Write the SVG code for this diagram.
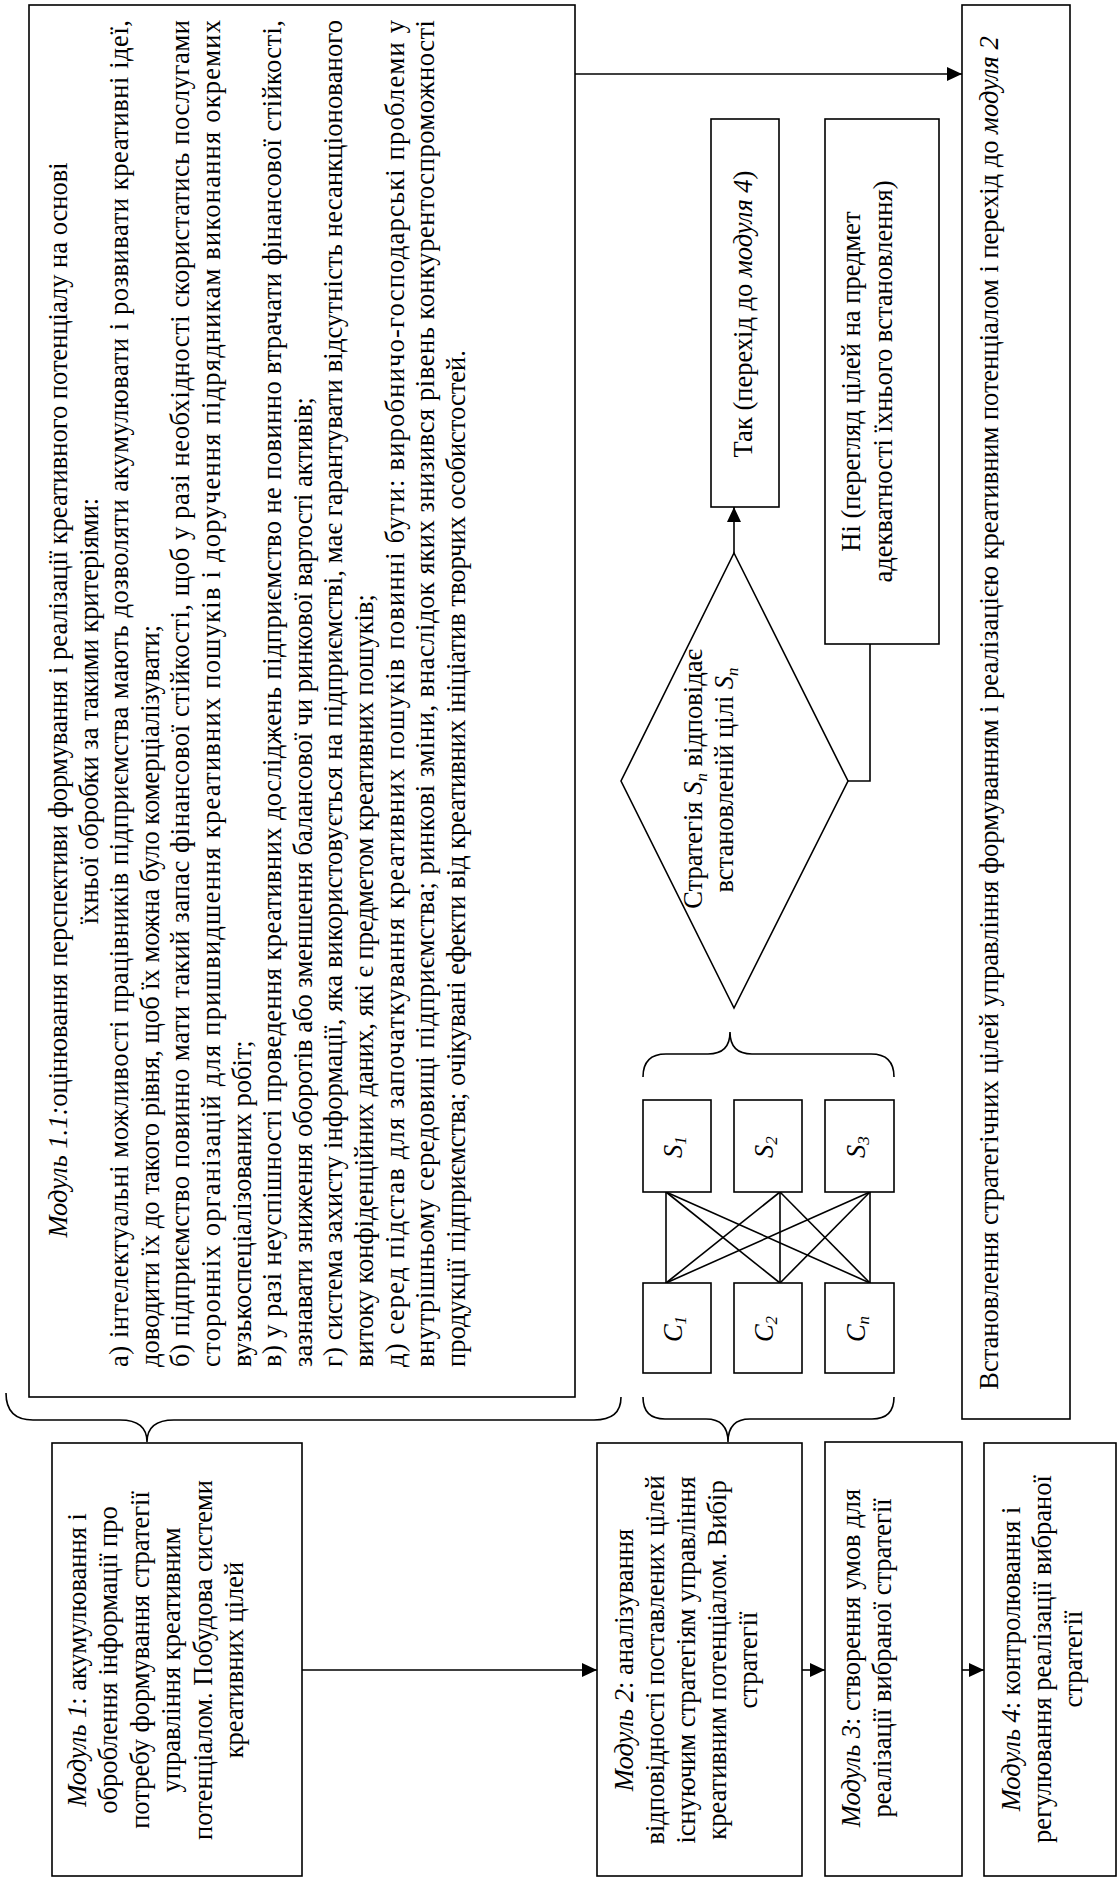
<svg xmlns="http://www.w3.org/2000/svg" width="1119" height="1881" viewBox="0 0 1119 1881">
<style>
.t{font-family:"Liberation Serif","Times New Roman",serif;font-size:26.5px;fill:#000}
.i{font-style:italic}
.m{text-anchor:middle}
.sub{font-size:17px}
.box{fill:#fff;stroke:#000;stroke-width:1.6}
.ln{fill:none;stroke:#000;stroke-width:1.6}
</style>
<defs>
<marker id="ah" markerUnits="userSpaceOnUse" markerWidth="16" markerHeight="14" refX="15" refY="7" orient="auto">
<path d="M0,0 L15,7 L0,14 z" fill="#000"/>
</marker>
</defs>
<rect width="1119" height="1881" fill="#fff"/>

<g id="connectors">
<line class="ln" x1="302" y1="1670" x2="597" y2="1670" marker-end="url(#ah)"/>
<line class="ln" x1="802" y1="1670" x2="825" y2="1670" marker-end="url(#ah)"/>
<line class="ln" x1="962" y1="1670" x2="984" y2="1670" marker-end="url(#ah)"/>
<line class="ln" x1="575" y1="74" x2="962" y2="74" marker-end="url(#ah)"/>
<line class="ln" x1="734" y1="553" x2="734" y2="507" marker-end="url(#ah)"/>
<polyline class="ln" points="848,781 870,781 870,644"/>
<path class="ln" d="M6,1393 Q6,1420 33,1420 L120,1420 Q147,1420 147,1442 Q147,1420 174,1420 L594,1420 Q621,1420 621,1397"/>
<path class="ln" d="M643,1397 Q643,1419 665,1419 L706,1419 Q728,1419 728,1442 Q728,1419 750,1419 L872,1419 Q894,1419 894,1397"/>
<path class="ln" d="M643,1077 Q643,1054 666,1054 L708,1054 Q730,1054 730,1032 Q730,1054 752,1054 L871,1054 Q894,1054 894,1077"/>
<line class="ln" x1="666" y1="1192" x2="666" y2="1283"/>
<line class="ln" x1="666" y1="1192" x2="780" y2="1283"/>
<line class="ln" x1="666" y1="1192" x2="870" y2="1283"/>
<line class="ln" x1="780" y1="1192" x2="666" y2="1283"/>
<line class="ln" x1="780" y1="1192" x2="780" y2="1283"/>
<line class="ln" x1="780" y1="1192" x2="870" y2="1283"/>
<line class="ln" x1="870" y1="1192" x2="666" y2="1283"/>
<line class="ln" x1="870" y1="1192" x2="780" y2="1283"/>
<line class="ln" x1="870" y1="1192" x2="870" y2="1283"/>
</g>

<g id="module11">
<rect class="box" x="29" y="5" width="546" height="1392"/>
<g transform="rotate(-90)" class="t">
<text x="-700" y="67" class="m"><tspan class="i">Модуль 1.1:</tspan>оцінювання перспективи формування і реалізації креативного потенціалу на основі</text>
<text x="-711" y="97.6" class="m">їхньої обробки за такими критеріями:</text>
<text x="-1367" y="128.2" textLength="1347" lengthAdjust="spacing">а) інтелектуальні можливості працівників підприємства мають дозволяти акумулювати і розвивати креативні ідеї,</text>
<text x="-1367" y="158.8">доводити їх до такого рівня, щоб їх можна було комерціалізувати;</text>
<text x="-1367" y="189.4" textLength="1347" lengthAdjust="spacing">б) підприємство повинно мати такий запас фінансової стійкості, щоб у разі необхідності скористатись послугами</text>
<text x="-1367" y="220" textLength="1347" lengthAdjust="spacing">сторонніх організацій для пришвидшення креативних пошуків і доручення підрядникам виконання окремих</text>
<text x="-1367" y="250.6">вузькоспеціалізованих робіт;</text>
<text x="-1367" y="281.2" textLength="1347" lengthAdjust="spacing">в) у разі неуспішності проведення креативних досліджень підприємство не повинно втрачати фінансової стійкості,</text>
<text x="-1367" y="311.8">зазнавати зниження оборотів або зменшення балансової чи ринкової вартості активів;</text>
<text x="-1367" y="342.4" textLength="1347" lengthAdjust="spacing">г) система захисту інформації, яка використовується на підприємстві, має гарантувати відсутність несанкціонованого</text>
<text x="-1367" y="373">витоку конфіденційних даних, які є предметом креативних пошуків;</text>
<text x="-1367" y="403.6" textLength="1347" lengthAdjust="spacing">д) серед підстав для започаткування креативних пошуків повинні бути: виробничо-господарські проблеми у</text>
<text x="-1367" y="434.2" textLength="1347" lengthAdjust="spacing">внутрішньому середовищі підприємства; ринкові зміни, внаслідок яких знизився рівень конкурентоспроможності</text>
<text x="-1367" y="464.8">продукції підприємства; очікувані ефекти від креативних ініціатив творчих особистостей.</text>
</g>
</g>

<g id="goals">
<rect class="box" x="962" y="5" width="108" height="1414"/>
<text class="t m" transform="rotate(-90)" x="-713" y="998">Встановлення стратегічних цілей управління формуванням і реалізацією креативним потенціалом і перехід до <tspan class="i">модуля 2</tspan></text>
</g>

<g id="yes">
<rect class="box" x="711" y="119" width="68" height="388"/>
<text class="t m" transform="rotate(-90)" x="-314" y="752">Так (перехід до <tspan class="i">модуля 4</tspan>)</text>
</g>

<g id="no">
<rect class="box" x="825" y="119" width="114" height="525"/>
<g class="t m" transform="rotate(-90)">
<text x="-381.5" y="860">Ні (перегляд цілей на предмет</text>
<text x="-381.5" y="892">адекватності їхнього встановлення)</text>
</g>
</g>

<g id="decision">
<polygon class="box" points="734,553 848,781 734,1008 621,781"/>
<g class="t m" transform="rotate(-90)">
<text x="-779" y="702">Стратегія <tspan class="i">S</tspan><tspan class="i sub" dy="5">n</tspan><tspan dy="-5"> відповідає</tspan></text>
<text x="-780" y="733">встановленій цілі <tspan class="i">S</tspan><tspan class="i sub" dy="5">n</tspan></text>
</g>
</g>

<g id="s1"><rect class="box" x="643" y="1100" width="68" height="92"/><text class="t m" transform="rotate(-90)" x="-1147" y="682"><tspan class="i">S</tspan><tspan class="i sub" dy="4">1</tspan></text></g>
<g id="s2"><rect class="box" x="734" y="1100" width="68" height="92"/><text class="t m" transform="rotate(-90)" x="-1147" y="773"><tspan class="i">S</tspan><tspan class="i sub" dy="4">2</tspan></text></g>
<g id="s3"><rect class="box" x="825" y="1100" width="69" height="92"/><text class="t m" transform="rotate(-90)" x="-1147" y="865"><tspan class="i">S</tspan><tspan class="i sub" dy="4">3</tspan></text></g>
<g id="c1"><rect class="box" x="643" y="1283" width="68" height="90"/><text class="t m" transform="rotate(-90)" x="-1329" y="682"><tspan class="i">C</tspan><tspan class="i sub" dy="4">1</tspan></text></g>
<g id="c2"><rect class="box" x="734" y="1283" width="68" height="90"/><text class="t m" transform="rotate(-90)" x="-1329" y="773"><tspan class="i">C</tspan><tspan class="i sub" dy="4">2</tspan></text></g>
<g id="cn"><rect class="box" x="825" y="1283" width="69" height="90"/><text class="t m" transform="rotate(-90)" x="-1329" y="865"><tspan class="i">C</tspan><tspan class="i sub" dy="4">n</tspan></text></g>

<g id="module1">
<rect class="box" x="52" y="1443" width="250" height="433"/>
<g class="t m" transform="rotate(-90)">
<text x="-1660" y="86"><tspan class="i">Модуль 1</tspan>: акумулювання і</text>
<text x="-1660" y="117.4">оброблення інформації про</text>
<text x="-1660" y="148.8">потребу формування стратегії</text>
<text x="-1660" y="180.2">управління креативним</text>
<text x="-1660" y="211.6">потенціалом. Побудова системи</text>
<text x="-1660" y="243">креативних цілей</text>
</g>
</g>

<g id="module2">
<rect class="box" x="597" y="1443" width="205" height="433"/>
<g class="t m" transform="rotate(-90)">
<text x="-1660" y="633"><tspan class="i">Модуль 2</tspan>: аналізування</text>
<text x="-1660" y="664">відповідності поставлених цілей</text>
<text x="-1660" y="695">існуючим стратегіям управління</text>
<text x="-1660" y="726">креативним потенціалом.  Вибір</text>
<text x="-1660" y="757">стратегії</text>
</g>
</g>

<g id="module3">
<rect class="box" x="825" y="1442" width="137" height="434"/>
<g class="t m" transform="rotate(-90)">
<text x="-1658" y="860"><tspan class="i">Модуль 3</tspan>: створення умов для</text>
<text x="-1658" y="891">реалізації вибраної стратегії</text>
</g>
</g>

<g id="module4">
<rect class="box" x="984" y="1443" width="132" height="433"/>
<g class="t m" transform="rotate(-90)">
<text x="-1659" y="1020"><tspan class="i">Модуль 4</tspan>: контролювання і</text>
<text x="-1659" y="1051">регулювання реалізації вибраної</text>
<text x="-1659" y="1082">стратегії</text>
</g>
</g>
</svg>
